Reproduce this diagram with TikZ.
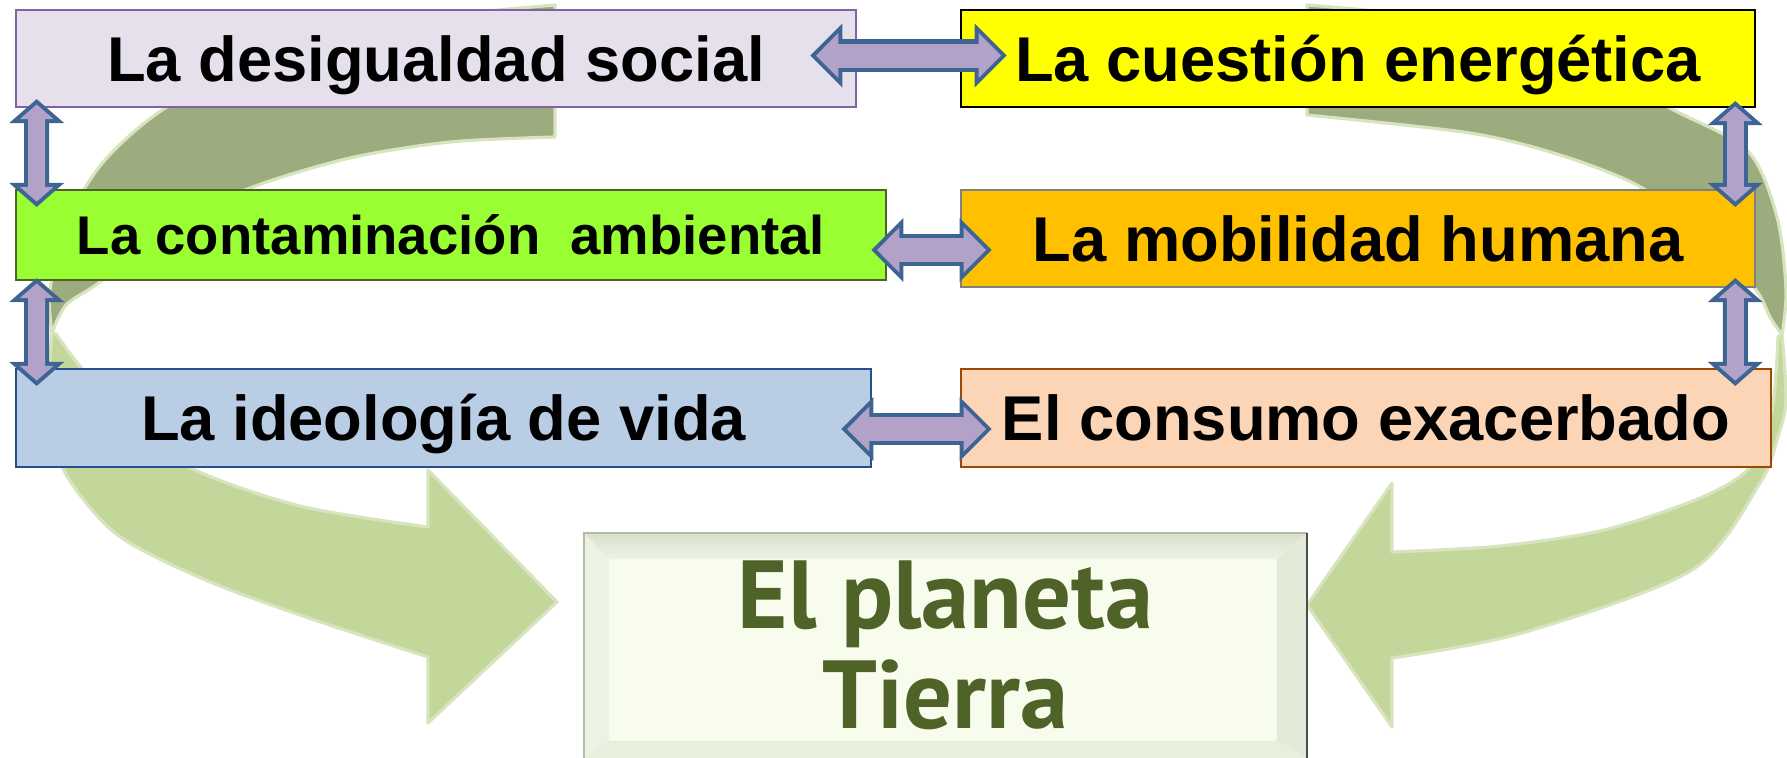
\documentclass[tikz,border=0pt]{standalone}
\usepackage{fontspec}
\setmainfont{Liberation Sans}
\newfontfamily\planetfont{PT Sans}
\usepackage{tikz}
\usetikzlibrary{calc,arrows.meta}

\definecolor{ringfront}{HTML}{C4D79B}
\definecolor{ringback}{HTML}{9CAC7E}
\definecolor{ringedge}{HTML}{D8E4BE}
\definecolor{linkedge}{HTML}{3E6493}
\definecolor{linkfill}{HTML}{B3A2C7}
\definecolor{planettext}{HTML}{4F6228}
\definecolor{desigfill}{HTML}{E5E0EC}
\definecolor{desigline}{HTML}{8064A2}
\definecolor{energfill}{HTML}{FFFF00}
\definecolor{contamfill}{HTML}{99FF33}
\definecolor{contamline}{HTML}{4F6228}
\definecolor{movilfill}{HTML}{FFC000}
\definecolor{movilline}{HTML}{808080}
\definecolor{ideolfill}{HTML}{B9CDE5}
\definecolor{ideolline}{HTML}{254F8D}
\definecolor{consumofill}{HTML}{FBD5B5}
\definecolor{consumoline}{HTML}{984807}
\definecolor{tierrafill}{HTML}{F7FCEC}
\definecolor{bevtopA}{HTML}{D9E0CE}
\definecolor{bevtopB}{HTML}{EEF4E4}
\definecolor{bevleft}{HTML}{EDF3E2}
\definecolor{bevright}{HTML}{E3EAD7}
\definecolor{bevbottom}{HTML}{E9EFDD}
\definecolor{tierraline}{HTML}{B4BAA8}

\begin{document}
\begin{tikzpicture}[x=0.01cm, y=-0.01cm,
  box/.style={draw, line width=0.6pt, inner sep=0pt, text height=12.9pt, text depth=0pt,
    font=\fontsize{18}{21}\selectfont\bfseries},
  ring/.style={draw=ringedge, line width=0.9pt, line join=round},
  hlink/.style={draw=linkedge, line width=3.2mm,
    arrows={Triangle[length=3.2mm,width=6.4mm,line width=0pt]-Triangle[length=3.2mm,width=6.4mm,line width=0pt]},
    postaction={draw=linkfill, line width=2.4mm, shorten <=0.57mm, shorten >=0.57mm,
    arrows={Triangle[length=2.23mm,width=4.47mm,line width=0pt]-Triangle[length=2.23mm,width=4.47mm,line width=0pt]}}},
  vlink/.style={draw=linkedge, line width=2.5mm,
    arrows={Triangle[length=2.4mm,width=5.5mm,line width=0pt]-Triangle[length=2.4mm,width=5.5mm,line width=0pt]},
    postaction={draw=linkfill, line width=1.7mm, shorten <=0.53mm, shorten >=0.53mm,
    arrows={Triangle[length=1.47mm,width=3.37mm,line width=0pt]-Triangle[length=1.47mm,width=3.37mm,line width=0pt]}}}]
\useasboundingbox (0,0) rectangle (1787,757);

% the two big circling arrows
\path[ring, fill=ringback] (555,137) -- (555,5)
  -- plot[smooth] coordinates {(555,5) (400,22) (265,62) (167,107) (105,160) (68,220) (50,290) (52,333)}
  -- plot[smooth] coordinates {(52,333) (66,305) (100,282) (170,228) (250,188) (350,158) (450,142) (555,137)}
  -- cycle;
\path[ring, fill=ringfront] (52,333)
  -- plot[smooth] coordinates {(52,333) (49,400) (62,467) (115,533) (201,578) (300,615) (428,657)}
  -- (428,723) -- (557,602) -- (428,470) -- (428,527)
  -- plot[smooth] coordinates {(428,527) (300,506) (189,467) (125,415) (83,370) (56,334)}
  -- cycle;
\path[ring, fill=ringback] (1307,115) -- (1307,5)
  -- plot[smooth] coordinates {(1307,5) (1450,20) (1580,55) (1668,107) (1747,150) (1777,217) (1786,290) (1782,335)}
  -- plot[smooth] coordinates {(1782,335) (1770,317) (1754,287) (1700,230) (1637,185) (1560,155) (1470,133) (1307,115)}
  -- cycle;
\path[ring, fill=ringfront] (1782,335)
  -- plot[smooth] coordinates {(1782,335) (1786,400) (1777,440) (1760,483) (1692,570) (1522,633) (1392,658)}
  -- (1392,727) -- (1307,605) -- (1392,483) -- (1392,552)
  -- plot[smooth] coordinates {(1392,552) (1500,546) (1604,530) (1700,498) (1750,467) (1772,410) (1778,337)}
  -- cycle;

% the six topics
\node[box, fill=desigfill, draw=desigline,
  minimum width=84mm, minimum height=9.7mm] (desig) at (436,58.5) {La desigualdad social};
\node[box, fill=energfill, draw=black,
  minimum width=79.4mm, minimum height=9.7mm] (energ) at (1358,58.5) {La cuestión energética};
\node[box, fill=contamfill, draw=contamline,
  minimum width=87mm, minimum height=9mm, text height=11.1pt, font=\fontsize{15.5}{18}\selectfont\bfseries]
  (contam) at (451,235) {La contaminación\ \ ambiental};
\node[box, fill=movilfill, draw=movilline,
  minimum width=79.4mm, minimum height=9.7mm] (movil) at (1358,238.5) {La mobilidad humana};
\node[box, fill=ideolfill, draw=ideolline,
  minimum width=85.5mm, minimum height=9.8mm] (ideol) at (443.5,418) {La ideología de vida};
\node[box, fill=consumofill, draw=consumoline,
  minimum width=81mm, minimum height=9.8mm] (consumo) at (1366,418) {El consumo exacerbado};

% the planet
\node[fill=tierrafill, inner sep=0pt,
  minimum width=72.1mm, minimum height=22.3mm, align=center, text=planettext,
  font=\planetfont\bfseries\fontsize{27.5}{28.5}\selectfont] (tierra) at (945.5,645.5) {El planeta\\Tierra};
\shade[top color=bevtopA, bottom color=bevtopB]
  (tierra.north west) -- (tierra.north east) -- ($(tierra.north east)+(-30,26)$) -- ($(tierra.north west)+(25,26)$) -- cycle;
\fill[bevleft]
  (tierra.north west) -- ($(tierra.north west)+(25,26)$) -- ($(tierra.south west)+(25,-17)$) -- (tierra.south west) -- cycle;
\fill[bevright]
  (tierra.north east) -- ($(tierra.north east)+(-30,26)$) -- ($(tierra.south east)+(-30,-17)$) -- (tierra.south east) -- cycle;
\fill[bevbottom]
  (tierra.south west) -- ($(tierra.south west)+(25,-17)$) -- ($(tierra.south east)+(-30,-17)$) -- (tierra.south east) -- cycle;
\draw[tierraline, line width=0.5pt] (tierra.south west) -- (tierra.north west) -- (tierra.north east);
\draw[black!70, line width=0.6pt] (tierra.north east) -- (tierra.south east);

% links between topics
\draw
  ($(desig.east)+(-47,-3)$) edge[hlink] ($(energ.west)+(47,-3)$)
  ($(contam.east)+(-16,15)$) edge[hlink] ($(movil.west)+(32,11.5)$)
  ($(ideol.east)+(-31,11)$) edge[hlink] ($(consumo.west)+(32,11)$)
  ($(desig.south west)+(22,-9)$) edge[vlink] ($(contam.north west)+(22,18)$)
  ($(contam.south west)+(22,-3)$) edge[vlink] ($(ideol.north west)+(22,18)$)
  ($(energ.south east)+(-21,-7)$) edge[vlink] ($(movil.north east)+(-21,18)$)
  ($(movil.south east)+(-21,-10)$) edge[vlink] ($(consumo.north east)+(-37,18)$)
;
\end{tikzpicture}
\end{document}
